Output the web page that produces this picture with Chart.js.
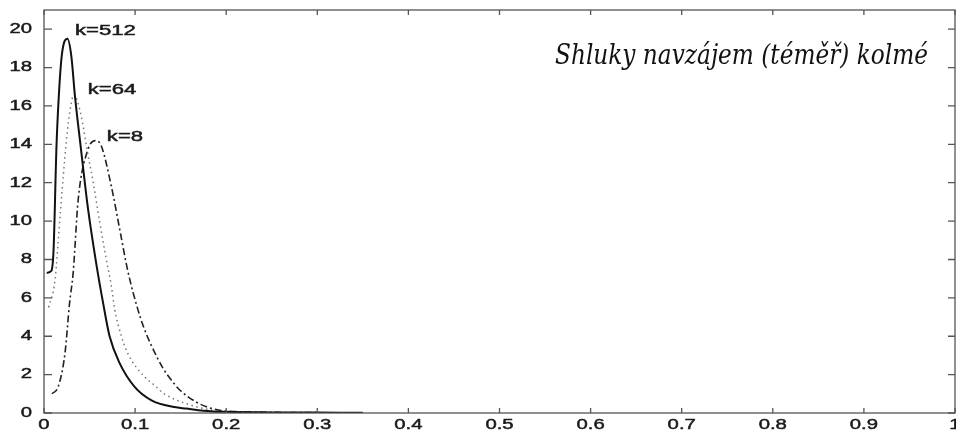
<!DOCTYPE html>
<html>
<head>
<meta charset="utf-8">
<script src="https://cdn.jsdelivr.net/npm/chart.js@4"></script>
<style>
  body { margin: 0; background: #fff; }
  #wrap { width: 956px; height: 432px; }
</style>
</head>
<body>
<div id="wrap"><canvas id="chart"></canvas></div>
<script>
    // Tick values and labels
    const xTicks = [0, 0.1, 0.2, 0.3, 0.4, 0.5, 0.6, 0.7, 0.8, 0.9, 1];
    const xTickLabels = ['0', '0.1', '0.2', '0.3', '0.4', '0.5', '0.6', '0.7', '0.8', '0.9', '1'];
    const yTicks = [0, 2, 4, 6, 8, 10, 12, 14, 16, 18, 20];

    // k=512 (solid)
    const k512X = [0.003, 0.008, 0.0105, 0.0137, 0.016, 0.019, 0.022, 0.0257, 0.030, 0.034, 0.040, 0.048, 0.058, 0.065, 0.072, 0.083, 0.0995, 0.118, 0.143, 0.156, 0.175, 0.2, 0.25, 0.3, 0.35];
    const k512Y = [7.3, 7.4, 8.5, 13.9, 16.3, 18.4, 19.3, 19.5, 18.6, 16.5, 14.0, 10.75, 7.6, 5.7, 4.0, 2.6, 1.36, 0.66, 0.31, 0.23, 0.12, 0.06, 0.03, 0.02, 0.01];

    // k=64 (dotted)
    const k64X = [0.005, 0.012, 0.018, 0.0246, 0.029, 0.033, 0.037, 0.042, 0.047, 0.054, 0.061, 0.068, 0.074, 0.0776, 0.085, 0.092, 0.11, 0.12, 0.132, 0.156, 0.186, 0.22, 0.3];
    const k64Y = [5.5, 6.9, 10.5, 14.2, 15.9, 16.6, 16.2, 15.2, 13.8, 12.0, 10.0, 8.1, 6.6, 5.4, 4.0, 3.1, 1.9, 1.5, 1.0, 0.49, 0.14, 0.05, 0.01];

    // k=8 (dash-dot)
    const k8X = [0.0087, 0.0155, 0.023, 0.028, 0.032, 0.0375, 0.048, 0.057, 0.063, 0.074, 0.083, 0.092, 0.103, 0.11, 0.118, 0.131, 0.14, 0.149, 0.167, 0.18, 0.193, 0.22, 0.3];
    const k8Y = [1.0, 1.36, 3.1, 5.7, 7.3, 11.1, 13.7, 14.2, 13.9, 11.8, 9.6, 7.4, 5.4, 4.4, 3.5, 2.3, 1.7, 1.2, 0.57, 0.3, 0.14, 0.06, 0.02];

    const toPoints = (xs, ys) => xs.map((x, i) => ({ x: x, y: ys[i] }));

    // text drawn a bit heavier and stretched wide, like the scanned original
    function wideText(ctx, text, x, y, sx, align) {
      ctx.save();
      ctx.translate(x, y);
      ctx.scale(sx, 1);
      ctx.textAlign = align;
      ctx.fillText(text, 0, 0);
      ctx.strokeText(text, 0, 0);
      ctx.restore();
    }

    // Frame, inward ticks, tick labels and text annotations
    const framePlugin = {
      id: 'frame',
      afterDraw(chart) {
        const ctx = chart.ctx;
        const a = chart.chartArea;
        const xs = chart.scales.x;
        const ys = chart.scales.y;
        ctx.save();
        ctx.strokeStyle = '#555';
        ctx.lineWidth = 1.3;
        ctx.strokeRect(a.left, a.top, a.right - a.left, a.bottom - a.top);

        ctx.beginPath();
        xTicks.forEach(v => {
          const px = xs.getPixelForValue(v);
          ctx.moveTo(px, a.bottom); ctx.lineTo(px, a.bottom - 5);
          ctx.moveTo(px, a.top); ctx.lineTo(px, a.top + 5);
        });
        yTicks.forEach(v => {
          const py = ys.getPixelForValue(v);
          ctx.moveTo(a.left, py); ctx.lineTo(a.left + 8, py);
          ctx.moveTo(a.right, py); ctx.lineTo(a.right - 7, py);
        });
        ctx.stroke();

        // tick labels
        ctx.fillStyle = '#1a1a1a';
        ctx.strokeStyle = '#1a1a1a';
        ctx.lineWidth = 0.45;
        ctx.font = '14px "Liberation Sans", Arial, sans-serif';
        ctx.textBaseline = 'middle';
        xTicks.forEach((v, i) => {
          wideText(ctx, xTickLabels[i], xs.getPixelForValue(v), 425, 1.45, 'center');
        });
        yTicks.forEach(v => {
          wideText(ctx, String(v), 32, ys.getPixelForValue(v), 1.45, 'right');
        });

        // curve labels
        ctx.font = '14px "Liberation Sans", Arial, sans-serif';
        const labels = [['k=512', 0.034, 19.9], ['k=64', 0.048, 16.8], ['k=8', 0.069, 14.4]];
        labels.forEach(l => {
          wideText(ctx, l[0], xs.getPixelForValue(l[1]), ys.getPixelForValue(l[2]), 1.58, 'left');
        });

        // title text, fitted to its width in the original
        const title = 'Shluky navzájem (téměř) kolmé';
        ctx.font = 'italic 28px "DejaVu Serif", serif';
        ctx.textAlign = 'left';
        ctx.textBaseline = 'alphabetic';
        const w = ctx.measureText(title).width;
        ctx.save();
        ctx.translate(555, 64);
        ctx.scale(373 / w, 1);
        ctx.fillStyle = '#111';
        ctx.fillText(title, 0, 0);
        ctx.restore();
        ctx.restore();
      }
    };

    const ctx = document.getElementById('chart').getContext('2d');
    new Chart(ctx, {
      type: 'line',
      data: {
        datasets: [
          {
            label: 'k=512',
            data: toPoints(k512X, k512Y),
            borderColor: '#111',
            borderWidth: 2,
            pointRadius: 0,
            cubicInterpolationMode: 'monotone',
            fill: false
          },
          {
            label: 'k=64',
            data: toPoints(k64X, k64Y),
            borderColor: '#777',
            borderWidth: 1.5,
            borderDash: [1.5, 3.5],
            pointRadius: 0,
            cubicInterpolationMode: 'monotone',
            fill: false
          },
          {
            label: 'k=8',
            data: toPoints(k8X, k8Y),
            borderColor: '#222',
            borderWidth: 1.6,
            borderDash: [7, 3, 2, 3],
            pointRadius: 0,
            cubicInterpolationMode: 'monotone',
            fill: false
          }
        ]
      },
      options: {
        responsive: true,
        maintainAspectRatio: false,
        animation: false,
        layout: { padding: { left: 44, right: 1, top: 10, bottom: 19 }, autoPadding: false },
        scales: {
          x: {
            type: 'linear',
            min: 0,
            max: 1,
            afterBuildTicks: s => { s.ticks = xTicks.map(v => ({ value: v })); },
            ticks: { display: false },
            grid: { display: false, drawTicks: false },
            border: { display: false }
          },
          y: {
            type: 'linear',
            min: 0,
            max: 21,
            afterBuildTicks: s => { s.ticks = yTicks.map(v => ({ value: v })); },
            ticks: { display: false },
            grid: { display: false, drawTicks: false },
            border: { display: false }
          }
        },
        plugins: {
          legend: { display: false },
          tooltip: { enabled: false }
        }
      },
      plugins: [framePlugin]
    });
</script>
</body>
</html>
